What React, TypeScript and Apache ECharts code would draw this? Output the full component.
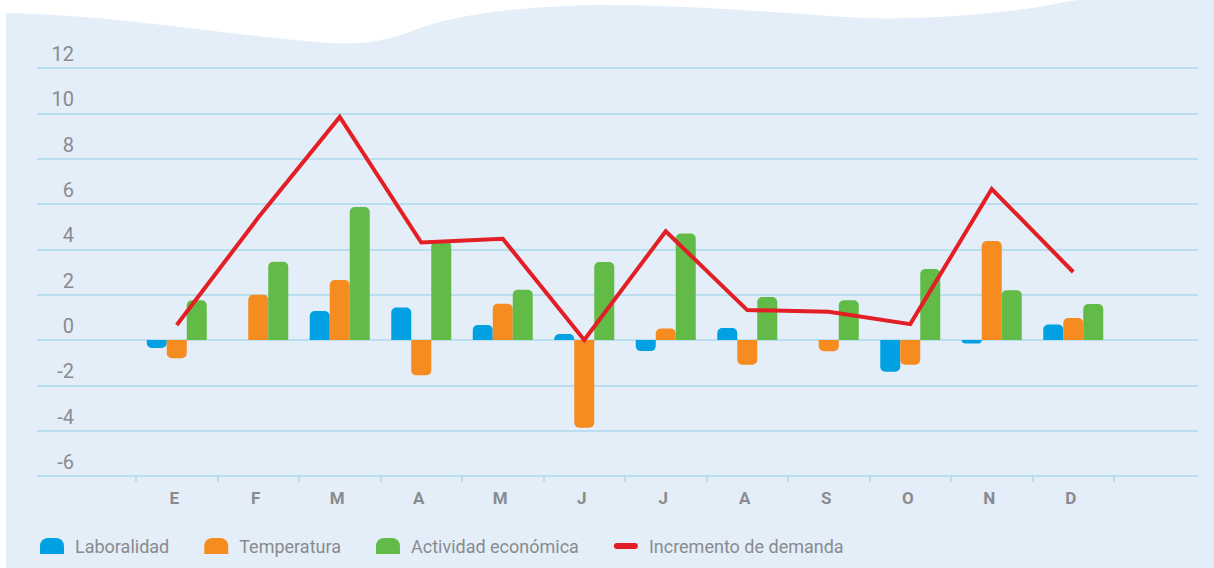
import React, { useEffect, useRef } from "react";
import * as echarts from "echarts";

const months = ["E", "F", "M", "A", "M", "J", "J", "A", "S", "O", "N", "D"];
const yTicks = { min: -6, max: 12, interval: 2 };
const laboralidad = [-0.35, 0, 1.28, 1.43, 0.66, 0.26, -0.49, 0.53, 0, -1.4, -0.15, 0.68];
const temperatura = [-0.8, 2.0, 2.65, -1.56, 1.6, -3.87, 0.51, -1.09, -0.5, -1.09, 4.37, 0.97];
const actividad = [1.75, 3.45, 5.87, 4.35, 2.22, 3.44, 4.7, 1.9, 1.75, 3.13, 2.2, 1.59];
const incremento = [0.66, 5.4, 9.84, 4.3, 4.47, 0.0, 4.8, 1.32, 1.25, 0.7, 6.66, 3.0];

const names = ["Laboralidad", "Temperatura", "Actividad económica", "Incremento de demanda"];
const colors = ["#00a0e3", "#f68b1f", "#62bb46", "#e31e24"];

const WAVE_D =
  "M6,13 C120,15 230,36 330,43 C365,45 390,40 412,31 C455,14 525,6 600,5 C700,5 790,14 860,18 C925,20 990,14 1040,7 C1055,4 1068,1 1080,0 L1214,0 L1214,568 L6,568 Z";

let registered = false;

const barData = (vals: number[]) =>
  vals.map((v) => ({
    value: v,
    itemStyle: { borderRadius: v >= 0 ? [5, 5, 0, 0] : [0, 0, 5, 5] },
  }));

export default function App() {
  const ref = useRef<HTMLDivElement>(null);
  useEffect(() => {
    document.body.style.margin = "0";
    if (!registered) {
      echarts.graphic.registerShape("bgwave", echarts.graphic.extendPath(WAVE_D, {}));
      registered = true;
    }
    const chart = echarts.init(ref.current!, null, { renderer: "svg" });
    const grey = "#898b8f";
    const gridColor = "#aad8ec";
    const font = "Roboto";
    const barIcon = "path://M0,16 L0,8 A8,8 0 0 1 8,0 L16,0 A8,8 0 0 1 24,8 L24,16 Z";
    const lineIcon = "path://M3,0 L21,0 A3,3 0 0 1 21,6 L3,6 A3,3 0 0 1 3,0 Z";
    chart.setOption({
      animation: false,
      backgroundColor: "#ffffff",
      graphic: {
        elements: [
          {
            type: "bgwave",
            x: 0,
            y: 0,
            z: -10,
            silent: true,
            style: { fill: "#e3eef8" },
          },
        ],
      },
      legend: {
        left: 35,
        top: 532,
        itemWidth: 24,
        itemHeight: 16,
        itemGap: 35,
        textStyle: { color: grey, fontSize: 18, fontFamily: font, padding: [0, 0, 0, 6] },
        data: [
          { name: names[0], icon: barIcon },
          { name: names[1], icon: barIcon },
          { name: names[2], icon: barIcon },
          { name: names[3], icon: lineIcon },
        ],
      },
      grid: [
        { left: 37, right: 16, top: 68, bottom: 92 },
        { left: 136, right: 100, top: 68, bottom: 92 },
      ],
      xAxis: [
        { type: "value", gridIndex: 0, show: false, min: 0, max: 1 },
        {
          type: "category",
          gridIndex: 1,
          data: months,
          axisLine: { show: false, onZero: false },
          axisTick: { show: true, length: 6, lineStyle: { color: gridColor, width: 1.5 } },
          axisLabel: {
            color: grey,
            fontSize: 17,
            fontWeight: "bold",
            fontFamily: font,
            margin: 13,
            padding: [0, 5, 0, 0],
          },
        },
      ],
      yAxis: [
        {
          type: "value",
          gridIndex: 0,
          min: yTicks.min,
          max: yTicks.max,
          interval: yTicks.interval,
          axisLine: { show: false },
          axisTick: { show: false },
          splitLine: { lineStyle: { color: gridColor, width: 1.5 } },
          axisLabel: {
            inside: true,
            align: "right",
            margin: 37,
            verticalAlign: "bottom",
            padding: [0, 0, 4, 0],
            color: grey,
            fontSize: 20,
            fontFamily: font,
          },
        },
        {
          type: "value",
          gridIndex: 1,
          min: yTicks.min,
          max: yTicks.max,
          interval: yTicks.interval,
          show: false,
          splitLine: { show: false },
        },
      ],
      series: [
        {
          name: names[0],
          type: "bar",
          xAxisIndex: 1,
          yAxisIndex: 1,
          barWidth: 20,
          barGap: "0%",
          itemStyle: { color: colors[0] },
          data: barData(laboralidad),
        },
        {
          name: names[1],
          type: "bar",
          xAxisIndex: 1,
          yAxisIndex: 1,
          barWidth: 20,
          barGap: "0%",
          itemStyle: { color: colors[1] },
          data: barData(temperatura),
        },
        {
          name: names[2],
          type: "bar",
          xAxisIndex: 1,
          yAxisIndex: 1,
          barWidth: 20,
          barGap: "0%",
          itemStyle: { color: colors[2] },
          data: barData(actividad),
        },
        {
          name: names[3],
          type: "line",
          xAxisIndex: 1,
          yAxisIndex: 1,
          showSymbol: false,
          symbol: "none",
          itemStyle: { color: colors[3] },
          lineStyle: { color: colors[3], width: 4, join: "miter" },
          data: incremento,
          z: 5,
        },
      ],
    });
    return () => chart.dispose();
  }, []);
  return <div ref={ref} style={{ width: 1214, height: 568 }} />;
}
